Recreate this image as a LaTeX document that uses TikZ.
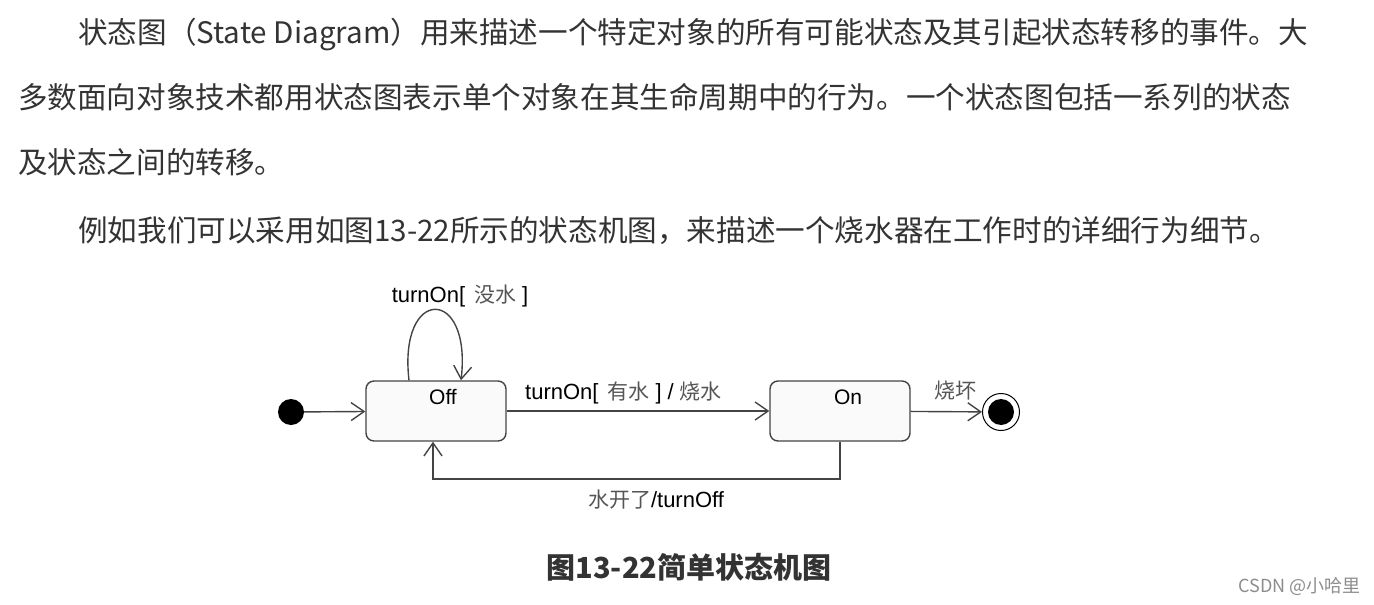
\documentclass[tikz,border=0pt]{standalone}
\usepackage{fontspec}
\usetikzlibrary{arrows.meta}
\setmainfont{Liberation Sans}
\newfontfamily\cjk{Noto Sans CJK SC}
\definecolor{txt}{HTML}{333333}
\definecolor{lbl}{HTML}{555555}
\definecolor{edge}{HTML}{444444}
\newcommand{\gcjk}[1]{\textcolor{lbl}{\cjk\fontsize{21}{21}\selectfont #1}}
\begin{document}
\begin{tikzpicture}[x=1pt,y=-1pt,
  para/.style={anchor=base west,inner sep=0pt,text=txt,font=\cjk\fontsize{29.6}{29.6}\selectfont},
  state/.style={draw=edge,line width=1.4pt,rounded corners=8pt,fill=black!2,minimum width=140pt,minimum height=60pt,inner sep=0pt},
  sname/.style={inner sep=0pt,font=\fontsize{21}{21}\selectfont},
  elbl/.style={inner sep=0pt,font=\fontsize{22}{22}\selectfont},
  trans/.style={draw=edge,line width=1.4pt,-{Straight Barb[length=13pt,width=18pt,line width=1.4pt]}}
]
\useasboundingbox (0,0) rectangle (1374,605);
% paragraphs
\node[para] (p1) at (78,43) {状态图（State Diagram）用来描述一个特定对象的所有可能状态及其引起状态转移的事件。大};
\node[para] (p2) at (18,108) {多数面向对象技术都用状态图表示单个对象在其生命周期中的行为。一个状态图包括一系列的状态};
\node[para] (p3) at (18,173) {及状态之间的转移。};
\node[para] (p4) at (78,241) {例如我们可以采用如图13-22所示的状态机图，来描述一个烧水器在工作时的详细行为细节。};
% states
\node[state] (off) at (436,411) {};
\node[state] (on) at (840,411) {};
\node[sname] (offl) at (443,397) {Off};
\node[sname] (onl) at (848,397) {On};
\node[circle,fill=black,inner sep=0pt,minimum size=26pt] (init) at (291,412) {};
\node[circle,draw=black,line width=1pt,fill=white,inner sep=0pt,minimum size=37pt] (fin) at (1001,412) {};
\node[circle,fill=black,inner sep=0pt,minimum size=26pt] (finin) at (1001,412) {};
% transitions
\draw[trans] (init) -- (off);
\draw[trans] (off) -- (on);
\draw[trans] (on) -- (fin);
\draw[trans] ([xshift=-27pt]off.north) .. controls (398,286) and (472,286) .. ([xshift=25pt]off.north);
\coordinate (b1) at (840,479);
\coordinate (b2) at (433,479);
\draw[trans] (on.south) -- (b1) -- (b2) -- ([xshift=-3pt]off.south);
% labels
\node[elbl] (l1) at (460,296) {turnOn[\hspace{9pt}\gcjk{没水}\hspace{6pt}]};
\node[elbl,anchor=west] (l2) at (525,393) {turnOn[\hspace{9pt}\gcjk{有水}\hspace{6pt}]\hspace{6pt}/\hspace{6pt}\gcjk{烧水}};
\node[elbl] (l3) at (955,391) {\gcjk{烧坏}};
\node[elbl] (l4) at (656,500) {\gcjk{水开了}/turnOff};
% caption
\node[inner sep=0pt,anchor=base,text=txt,font=\cjk\bfseries\fontsize{29}{29}\selectfont] (cap) at (689,578) {图13-22简单状态机图};
\node[inner sep=0pt,anchor=base east,text=black!45,font=\cjk\fontsize{18}{18}\selectfont] (wm) at (1361,592) {CSDN @小哈里};
\end{tikzpicture}
\end{document}
